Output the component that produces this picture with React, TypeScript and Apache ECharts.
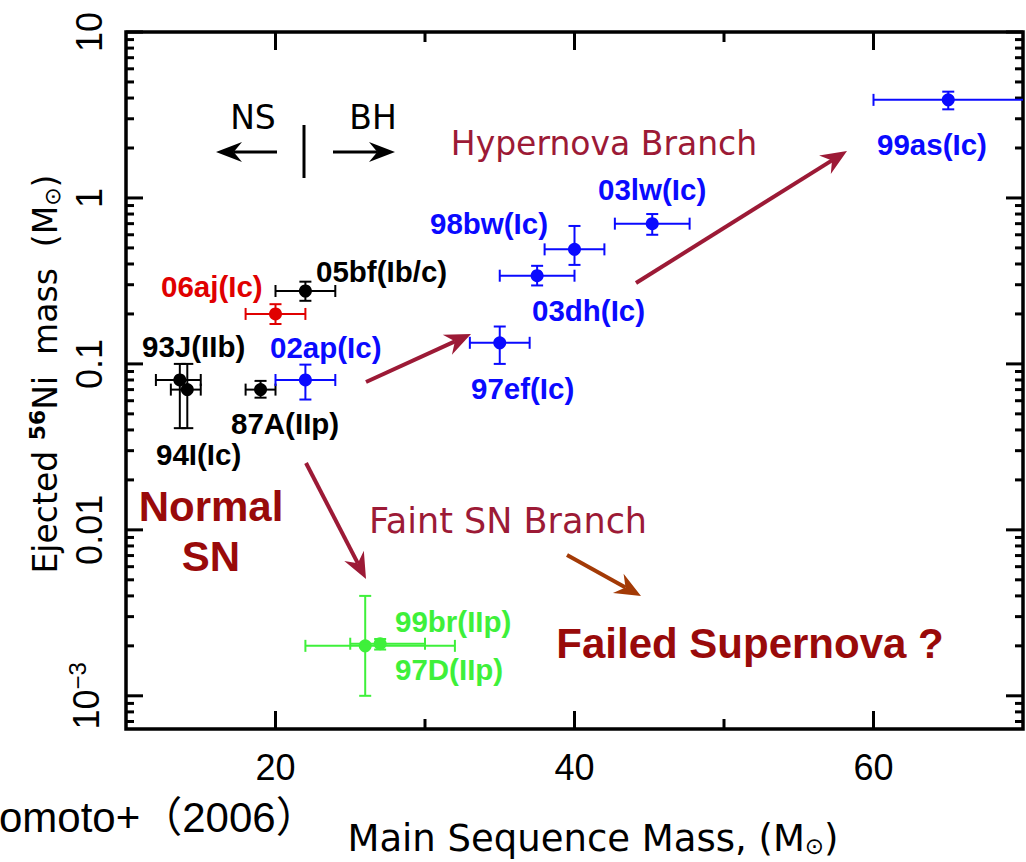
import React, { useEffect, useRef } from 'react';
import * as echarts from 'echarts';

// ---- data ----
const supernovae = ['87A(IIp)', '93J(IIb)', '94I(Ic)', '05bf(Ib/c)', '06aj(Ic)', '02ap(Ic)', '97ef(Ic)', '03dh(Ic)', '98bw(Ic)', '03lw(Ic)', '99as(Ic)', '99br(IIp)', '97D(IIp)'];
const groups = ['black', 'black', 'black', 'black', 'red', 'blue', 'blue', 'blue', 'blue', 'blue', 'blue', 'green', 'green'];
const mass = [19, 13.6, 14.1, 22, 20, 22, 35, 37.5, 40, 45.2, 65, 26, 27];
const massLo = [18, 12, 13, 20, 18, 20, 33, 35, 38, 42.7, 60, 22, 25];
const massHi = [20, 15, 15, 24, 22, 24, 37, 40, 42, 47.7, 75, 32, 30];
const niMass = [0.07, 0.08, 0.07, 0.275, 0.2, 0.08, 0.134, 0.34, 0.49, 0.7, 3.9, 0.002, 0.00206];
const niLo = [0.0626, 0.041, 0.041, 0.24, 0.174, 0.061, 0.1, 0.297, 0.395, 0.6, 3.42, 0.001, 0.0019];
const niHi = [0.079, 0.1, 0.1, 0.313, 0.229, 0.099, 0.168, 0.39, 0.678, 0.8, 4.37, 0.004, 0.0022];

const xTickLabels = [20, 40, 60];
const xMajorTicks = [20, 40, 60];
const xMinorTicks = [30, 50];
const yMajorTicks = [0.001, 0.01, 0.1, 1, 10];
const yTickLabels: Record<string, string> = { '1': '10', '0': '1', '-1': '0.1', '-2': '0.01', '-3': '10{sup|−3}' };

const groupColors: Record<string, string> = { black: '#000000', red: '#e00000', blue: '#0a0aff', green: '#3ef03a' };

const Y_MIN = Math.pow(10, -3.2);
const Y_MAX = 10;

const yMinorTicks: number[] = [];
for (let e = -4; e <= 0; e++) {
  for (let d = 2; d <= 9; d++) {
    const v = d * Math.pow(10, e);
    if (v > Y_MIN && v < Y_MAX) yMinorTicks.push(v);
  }
}

// label placement (pixel annotations)
const labelPos: Record<string, [number, number]> = {
  '87A(IIp)': [231, 423],
  '93J(IIb)': [142, 346],
  '94I(Ic)': [156, 454],
  '05bf(Ib/c)': [316, 271],
  '06aj(Ic)': [161, 286],
  '02ap(Ic)': [270, 347],
  '97ef(Ic)': [471, 388],
  '03dh(Ic)': [532, 310],
  '98bw(Ic)': [430, 223],
  '03lw(Ic)': [598, 189],
  '99as(Ic)': [877, 144],
  '99br(IIp)': [395, 621],
  '97D(IIp)': [395, 669],
};

function arrow(x1: number, y1: number, x2: number, y2: number, color: string, lw: number, L: number, W: number) {
  const dx = x2 - x1, dy = y2 - y1;
  const len = Math.hypot(dx, dy);
  const ux = dx / len, uy = dy / len;
  const nx = -uy, ny = ux;
  const bx = x2 - ux * L, by = y2 - uy * L;
  const mx = x2 - ux * L * 0.68, my = y2 - uy * L * 0.68;
  return [
    { type: 'line', shape: { x1, y1, x2: mx, y2: my }, style: { stroke: color, lineWidth: lw } },
    {
      type: 'polygon',
      shape: { points: [[x2, y2], [bx + nx * W, by + ny * W], [mx, my], [bx - nx * W, by - ny * W]] },
      style: { fill: color },
    },
  ];
}

function txt(text: string, x: number, y: number, font: string, fill: string, align = 'left', extra: any = {}) {
  return {
    type: 'text',
    x,
    y,
    silent: true,
    ...extra,
    style: {
      text,
      font,
      fill,
      align,
      textAlign: align,
      verticalAlign: 'middle',
      textVerticalAlign: 'middle',
      ...(extra.style || {}),
    },
  };
}

const App: React.FC = () => {
  const ref = useRef<HTMLDivElement>(null);

  useEffect(() => {
    if (!ref.current) return;
    const chart = echarts.init(ref.current, null, { renderer: 'svg' });

    const errorSeries = Object.keys(groupColors).map((g) => {
      const color = groupColors[g];
      const data: number[][] = [];
      groups.forEach((gg, i) => {
        if (gg === g) data.push([mass[i], niMass[i], massLo[i], massHi[i], niLo[i], niHi[i]]);
      });
      return {
        type: 'custom',
        name: g,
        silent: true,
        data,
        encode: { x: 0, y: 1 },
        renderItem: (params: any, api: any) => {
          const cs = params.coordSys;
          const right = cs.x + cs.width;
          const p = api.coord([api.value(0), api.value(1)]);
          const xl = api.coord([api.value(2), api.value(1)])[0];
          const xhRaw = api.coord([api.value(3), api.value(1)])[0];
          const xh = Math.min(xhRaw, right);
          const yl = api.coord([api.value(0), api.value(4)])[1];
          const yh = api.coord([api.value(0), api.value(5)])[1];
          const c = 6;
          const st = { stroke: color, lineWidth: 2 };
          const children: any[] = [
            { type: 'line', shape: { x1: xl, y1: p[1], x2: xh, y2: p[1] }, style: st },
            { type: 'line', shape: { x1: xl, y1: p[1] - c, x2: xl, y2: p[1] + c }, style: st },
            { type: 'line', shape: { x1: p[0], y1: yl, x2: p[0], y2: yh }, style: st },
            { type: 'line', shape: { x1: p[0] - c, y1: yl, x2: p[0] + c, y2: yl }, style: st },
            { type: 'line', shape: { x1: p[0] - c, y1: yh, x2: p[0] + c, y2: yh }, style: st },
            { type: 'circle', shape: { cx: p[0], cy: p[1], r: 6.5 }, style: { fill: color } },
          ];
          if (xhRaw <= right) {
            children.push({ type: 'line', shape: { x1: xh, y1: p[1] - c, x2: xh, y2: p[1] + c }, style: st });
          }
          return { type: 'group', children };
        },
      };
    });

    const xTickData = [...xMajorTicks.map((v) => [v, 1, 1]), ...xMinorTicks.map((v) => [v, 1, 0])];
    const yTickData = [...yMajorTicks.map((v) => [20, v, 1]), ...yMinorTicks.map((v) => [20, v, 0])];

    const tickStyle = { stroke: '#000', lineWidth: 3 };

    const xTickSeries = {
      type: 'custom',
      silent: true,
      data: xTickData,
      encode: { x: 0, y: 1 },
      renderItem: (params: any, api: any) => {
        const cs = params.coordSys;
        const x = api.coord([api.value(0), 1])[0];
        const len = api.value(2) ? 18 : 10;
        const bottom = cs.y + cs.height;
        return {
          type: 'group',
          children: [
            { type: 'line', shape: { x1: x, y1: bottom, x2: x, y2: bottom - len }, style: tickStyle },
            { type: 'line', shape: { x1: x, y1: cs.y, x2: x, y2: cs.y + len }, style: tickStyle },
          ],
        };
      },
    };

    const yTickSeries = {
      type: 'custom',
      silent: true,
      data: yTickData,
      encode: { x: 0, y: 1 },
      renderItem: (params: any, api: any) => {
        const cs = params.coordSys;
        const y = api.coord([20, api.value(1)])[1];
        const len = api.value(2) ? 17 : 8;
        const right = cs.x + cs.width;
        return {
          type: 'group',
          children: [
            { type: 'line', shape: { x1: cs.x, y1: y, x2: cs.x + len, y2: y }, style: tickStyle },
            { type: 'line', shape: { x1: right, y1: y, x2: right - len, y2: y }, style: tickStyle },
          ],
        };
      },
    };

    const crimson = '#9c1a36';
    const labelFont = 'bold 29.5px "Liberation Sans", Arial, sans-serif';

    const graphic: any[] = [
      // NS / BH
      txt('NS', 253, 117, '33px "DejaVu Sans", sans-serif', '#000', 'center'),
      txt('BH', 373, 117, '33px "DejaVu Sans", sans-serif', '#000', 'center'),
      ...arrow(277, 152, 216, 152, '#000', 3, 26, 10),
      ...arrow(333, 152, 395, 152, '#000', 3, 26, 10),
      { type: 'line', shape: { x1: 304, y1: 125, x2: 304, y2: 178 }, style: { stroke: '#000', lineWidth: 3 } },
      // branches
      txt('Hypernova Branch', 604, 143, '33px "DejaVu Sans", sans-serif', crimson, 'center'),
      txt('Faint SN Branch', 508, 521, '35px "DejaVu Sans", sans-serif', crimson, 'center'),
      ...arrow(636, 283, 847, 151, crimson, 4, 26, 11),
      ...arrow(366, 382, 471, 334, crimson, 4, 26, 11),
      ...arrow(306, 463, 366, 579, crimson, 4, 26, 11),
      ...arrow(567, 555, 641, 596, '#a33a06', 4, 26, 11),
      txt('Normal', 211, 506, 'bold 42px "Liberation Sans", Arial, sans-serif', '#990a0a', 'center'),
      txt('SN', 211, 556, 'bold 42px "Liberation Sans", Arial, sans-serif', '#990a0a', 'center'),
      txt('Failed Supernova ?', 750, 643, 'bold 42px "Liberation Sans", Arial, sans-serif', '#990a0a', 'center'),
      // citation
      txt('omoto+（2006）', -1, 817, '42px "Liberation Sans", "Noto Sans CJK JP", sans-serif', '#000', 'left'),
      // axis titles
      {
        type: 'text',
        x: 593,
        y: 838,
        silent: true,
        style: {
          text: 'Main Sequence Mass, (M{sun|⊙})',
          font: '37px "DejaVu Sans", sans-serif',
          fill: '#000',
          align: 'center',
          textAlign: 'center',
          verticalAlign: 'middle',
          textVerticalAlign: 'middle',
          rich: {
            sun: { font: '23px "DejaVu Sans", sans-serif', fill: '#000', padding: [16, 0, 0, 0] },
          },
        },
      },
      {
        type: 'text',
        x: 45,
        y: 374,
        rotation: Math.PI / 2,
        silent: true,
        style: {
          text: 'Ejected {sup|56}Ni  mass  (M{sun|⊙})',
          font: '33px "DejaVu Sans", sans-serif',
          fill: '#000',
          align: 'center',
          textAlign: 'center',
          verticalAlign: 'middle',
          textVerticalAlign: 'middle',
          rich: {
            sup: { font: 'bold 22px "DejaVu Sans", sans-serif', fill: '#000', padding: [0, 0, 16, 0] },
            sun: { font: '22px "DejaVu Sans", sans-serif', fill: '#000', padding: [14, 0, 0, 0] },
          },
        },
      },
    ];

    supernovae.forEach((name, i) => {
      const pos = labelPos[name];
      graphic.push(txt(name, pos[0], pos[1], labelFont, groupColors[groups[i]], 'left'));
    });

    chart.setOption({
      animation: false,
      backgroundColor: '#ffffff',
      grid: { left: 126, top: 32, right: 3, bottom: 133, show: true, borderColor: '#000', borderWidth: 3.5 },
      xAxis: {
        type: 'value',
        min: 10,
        max: 70,
        interval: 10,
        axisLine: { show: false },
        axisTick: { show: false },
        splitLine: { show: false },
        axisLabel: {
          color: '#000',
          fontSize: 36,
          fontFamily: '"Liberation Sans", Arial, sans-serif',
          margin: 20,
          formatter: (v: number) => (xTickLabels.indexOf(v) >= 0 ? String(v) : ''),
        },
      },
      yAxis: {
        type: 'log',
        logBase: 10,
        min: Y_MIN,
        max: Y_MAX,
        axisLine: { show: false },
        axisTick: { show: false },
        splitLine: { show: false },
        minorTick: { show: false },
        axisLabel: {
          color: '#000',
          fontSize: 36,
          fontFamily: '"Liberation Sans", Arial, sans-serif',
          rotate: 90,
          margin: 19,
          showMinLabel: true,
          formatter: (v: number) => {
            const e = Math.log10(v);
            const r = Math.round(e);
            if (Math.abs(e - r) > 1e-6) return '';
            return yTickLabels[String(r)] ?? '';
          },
          rich: {
            sup: { fontSize: 24, fontFamily: '"Liberation Sans", Arial, sans-serif', color: '#000', padding: [0, 0, 18, 0] },
          },
        },
      },
      series: [xTickSeries, yTickSeries, ...errorSeries],
      graphic,
    });

    return () => chart.dispose();
  }, []);

  return <div ref={ref} style={{ position: 'absolute', left: 0, top: 0, width: 1026, height: 862, background: '#fff' }} />;
};

export default App;
